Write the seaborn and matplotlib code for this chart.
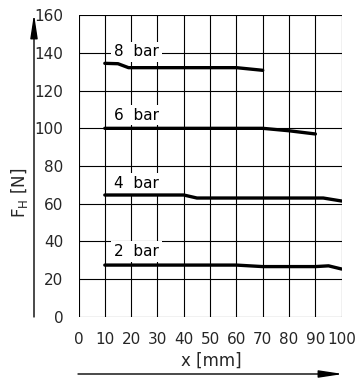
import matplotlib
matplotlib.use("Agg")
import matplotlib.pyplot as plt
import seaborn as sns
import pandas as pd

# Data
x_8bar = [10, 15, 19, 60, 70]
f_8bar = [134.5, 134.3, 132.2, 132.2, 130.8]
x_6bar = [10, 70, 80, 90]
f_6bar = [100, 100, 98.7, 97.0]
x_4bar = [10, 40, 45, 93, 100]
f_4bar = [64.6, 64.6, 63.0, 63.0, 61.4]
x_2bar = [10, 60, 70, 90, 95, 100]
f_2bar = [27.4, 27.4, 26.6, 26.6, 27.0, 25.3]
series_labels = ["8 bar", "6 bar", "4 bar", "2 bar"]
label_pos = [(13.5, 140.6), (13.5, 107.0), (13.5, 70.8), (13.5, 34.5)]
x_ticks = [0, 10, 20, 30, 40, 50, 60, 70, 80, 90, 100]
y_ticks = [0, 20, 40, 60, 80, 100, 120, 140, 160]

sns.set_style("white")
plt.rcParams['font.family'] = ['DejaVu Sans']

W, H = 357, 378
fig = plt.figure(figsize=(W / 100, H / 100), dpi=100)
left, right, top, bottom = 78.5, 341.7, 15.3, 316.7
ax = fig.add_axes([left / W, 1 - bottom / H, (right - left) / W, (bottom - top) / H])

frames = []
for name, xs, fs in zip(series_labels, [x_8bar, x_6bar, x_4bar, x_2bar],
                        [f_8bar, f_6bar, f_4bar, f_2bar]):
    frames.append(pd.DataFrame({"x": xs, "F": fs, "series": name}))
df = pd.concat(frames, ignore_index=True)

for name in series_labels:
    sub = df[df.series == name]
    sns.lineplot(data=sub, x="x", y="F", ax=ax, color="black", linewidth=2.4,
                 sort=False, estimator=None, zorder=3)

for name, (lx, ly) in zip(series_labels, label_pos):
    ax.text(lx, ly, name.replace(" ", "  "), fontsize=11, ha="left", va="center",
            color="black",
            bbox=dict(facecolor="white", edgecolor="none", pad=2.0), zorder=2)

ax.set_xlim(0, 100)
ax.set_ylim(0, 160)
ax.set_xticks(x_ticks)
ax.set_yticks(y_ticks)
ax.grid(True, color="black", linewidth=0.8, zorder=0)
ax.set_axisbelow(True)
for s in ax.spines.values():
    s.set_visible(False)
ax.tick_params(axis="both", length=10, width=0.8, color="black", labelsize=11, pad=1)
ax.set_xlabel("")
ax.set_ylabel("")

# axis labels
fig.text(20 / W, 1 - 193 / H, "F$_\\mathregular{H}$ [N]", rotation=90, ha="center",
         va="center", fontsize=12)
fig.text(211 / W, 1 - 361 / H, "x [mm]", ha="center", va="center", fontsize=12)

# arrows
style = "-|>,head_length=1.45,head_width=0.22"
fig.patches.append(matplotlib.patches.FancyArrowPatch(
    (34 / W, 1 - 317 / H), (34 / W, 1 - 14 / H), transform=fig.transFigure,
    arrowstyle=style, color="black", linewidth=1.0,
    mutation_scale=10, shrinkA=0, shrinkB=0))
fig.patches.append(matplotlib.patches.FancyArrowPatch(
    (78 / W, 1 - 374 / H), (343 / W, 1 - 374 / H), transform=fig.transFigure,
    arrowstyle=style, color="black", linewidth=1.0,
    mutation_scale=10, shrinkA=0, shrinkB=0))

fig.savefig("out.png", dpi=100)
